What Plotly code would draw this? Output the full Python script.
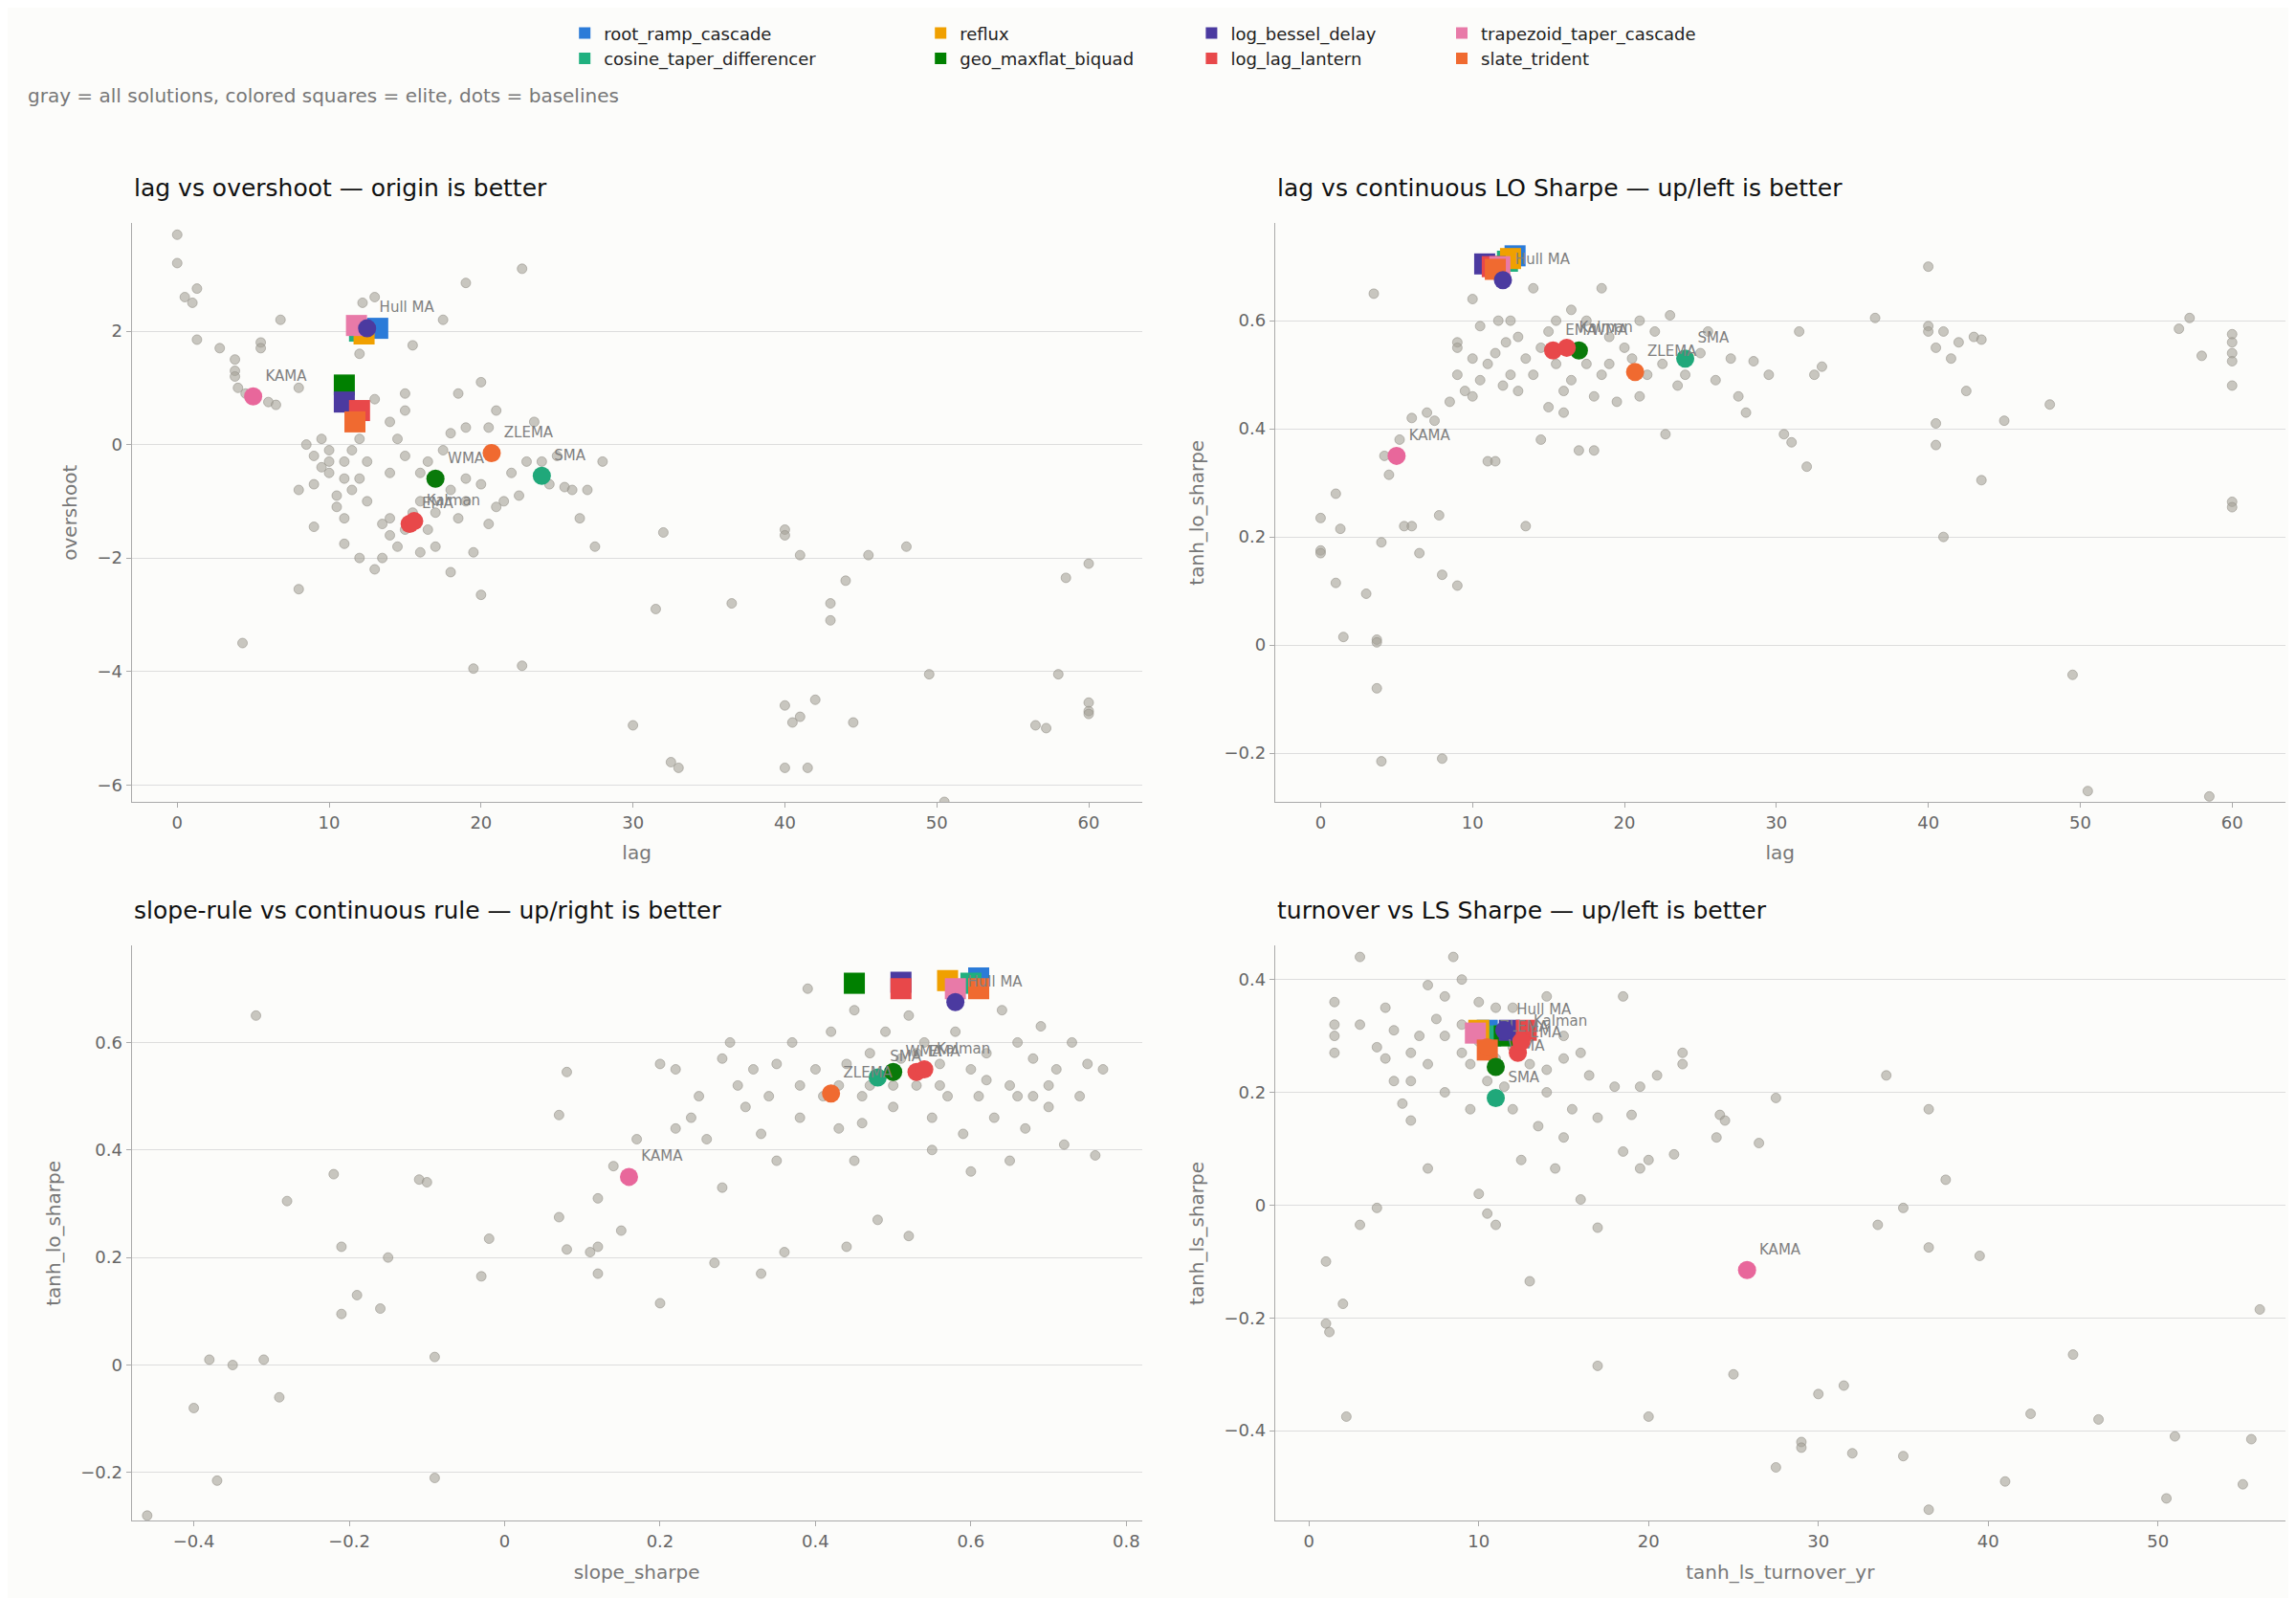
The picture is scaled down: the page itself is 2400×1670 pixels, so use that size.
import plotly.graph_objects as go

names = ["root_ramp_cascade","cosine_taper_differencer","reflux","geo_maxflat_biquad",
         "log_bessel_delay","log_lag_lantern","trapezoid_taper_cascade","slate_trident"]
colors = ["#2b7bd8","#20b07f","#f0a000","#008000","#4b3aa0","#e8484a","#e87aa8","#f06a30"]

base_names = ["KAMA","SMA","WMA","EMA","Kalman","ZLEMA","Hull MA"]
base_colors = ["#e8679b","#20a87a","#0a7a0a","#e8484a","#e8484a","#f06a30","#4b3aa0"]

# panel 1: lag vs overshoot
g1 = [(0,3.7),(0,3.2),(0.5,2.6),(1,2.5),(1.3,2.75),(1.3,1.85),(2.8,1.7),(3.8,1.5),(3.8,1.3),(3.8,1.2),(4,1.0),(4.5,0.9),(5.5,1.8),(5.5,1.7),(6,0.75),(6.5,0.7),(6.8,2.2),(8,1.0),(8,-0.8),(8,-2.55),(8.5,0),(9,-0.2),(9,-0.7),(9,-1.45),(9.5,0.1),(10,-0.3),(10,-0.5),(10.5,-0.9),(10.5,-1.1),(11,-0.6),(11,-0.3),(11,-1.3),(11.5,-0.8),(12,1.6),(12,0.1),(12.2,2.5),(12.5,-0.3),(12.5,-1.0),(13,2.6),(13.5,-2.0),(13.5,-1.4),(14,-0.5),(14,-1.6),(14.5,0.1),(14.5,-1.8),(15,0.6),(15,-0.2),(15.5,1.75),(15.5,-1.2),(16,-0.5),(16,-1.9),(16.5,-0.3),(16.5,-1.5),(17,-1.8),(17.5,2.2),(17.5,-0.1),(18,-0.8),(18,-2.25),(18.5,-1.3),(18.5,0.9),(19,2.85),(19,0.3),(19,-1.0),(19.5,-3.95),(19.5,-1.9),(20,1.1),(20,-0.7),(20,-2.65),(20.5,0.3),(21,-1.1),(21,0.6),(21.5,-1.0),(22,-0.5),(22.5,-0.9),(22.7,3.1),(22.7,-3.9),(23,-0.3),(23.5,0.4),(24,-0.3),(24.5,-0.7),(25,-0.2),(25.5,-0.75),(26,-0.8),(26.5,-1.3),(27,-0.8),(27.5,-1.8),(28,-0.3),(30,-4.95),(31.5,-2.9),(32,-1.55),(32.5,-5.6),(33,-5.7),(36.5,-2.8),(40,-1.5),(40,-1.6),(40,-4.6),(40,-5.7),(40.5,-4.9),(41,-4.8),(41,-1.95),(41.5,-5.7),(42,-4.5),(43,-2.8),(43,-3.1),(44,-2.4),(44.5,-4.9),(45.5,-1.95),(48,-1.8),(49.5,-4.05),(50.5,-6.3),(56.5,-4.95),(57.2,-5.0),(58,-4.05),(58.5,-2.35),(60,-2.1),(60,-4.55),(60,-4.7),(60,-4.75),(4.3,-3.5),(11,-1.75),(12,-2.0),(13,-2.2),(14,-1.3),(15,-1.5),(16,-1.0),(17,-1.2),(18,0.2),(19,-0.6),(20.5,-1.4),(13,0.8),(14,0.4),(15,0.9),(12,-0.6),(10,-0.1),(9.5,-0.4),(11.5,-0.1)]
e1 = [(13.2,2.05),(12,2.0),(12.3,1.95),(11,1.05),(11,0.75),(12,0.6),(11.8,2.1),(11.7,0.4)]
b1 = [(5,0.85),(24,-0.55),(17,-0.6),(15.3,-1.4),(15.6,-1.35),(20.7,-0.15),(12.5,2.05)]

# panel 2: lag vs tanh_lo_sharpe
g2 = [(0,0.235),(0,0.175),(0,0.17),(1,0.28),(1,0.115),(1.3,0.215),(1.5,0.015),(3,0.095),(3.5,0.65),(3.7,0.01),(3.7,0.005),(3.7,-0.08),(4,-0.215),(4,0.19),(4.2,0.35),(4.5,0.315),(5.2,0.38),(5.5,0.22),(6,0.42),(6,0.22),(6.5,0.17),(7,0.43),(7.5,0.415),(7.8,0.24),(8,0.13),(8,-0.21),(8.5,0.45),(9,0.11),(9,0.5),(9,0.56),(9,0.55),(9.5,0.47),(10,0.53),(10,0.64),(10,0.46),(10.5,0.49),(10.5,0.59),(11,0.52),(11,0.34),(11.5,0.54),(11.5,0.34),(11.7,0.6),(12,0.48),(12.2,0.56),(12.5,0.5),(12.5,0.6),(13,0.57),(13,0.47),(13.5,0.53),(13.5,0.22),(14,0.66),(14,0.5),(14.5,0.55),(14.5,0.38),(15,0.58),(15,0.44),(15.5,0.6),(15.5,0.52),(16,0.47),(16,0.43),(16.5,0.62),(16.5,0.49),(17,0.36),(17,0.55),(17.5,0.52),(17.5,0.6),(18,0.46),(18,0.36),(18.5,0.5),(18.5,0.66),(19,0.52),(19,0.57),(19.5,0.45),(20,0.55),(20.5,0.53),(21,0.6),(21,0.46),(21.5,0.5),(22,0.58),(22.5,0.52),(22.7,0.39),(23,0.61),(23.5,0.48),(24,0.5),(25,0.54),(25.5,0.58),(26,0.49),(27,0.53),(27.5,0.46),(28,0.43),(28.5,0.525),(29.5,0.5),(30.5,0.39),(31,0.375),(31.5,0.58),(32,0.33),(32.5,0.5),(33,0.515),(36.5,0.605),(40,0.7),(40,0.59),(40,0.58),(40.5,0.55),(40.5,0.41),(40.5,0.37),(41,0.58),(41,0.2),(41.5,0.53),(42,0.56),(42.5,0.47),(43,0.57),(43.5,0.565),(43.5,0.305),(45,0.415),(48,0.445),(49.5,-0.055),(50.5,-0.27),(56.5,0.585),(57.2,0.605),(58,0.535),(58.5,-0.28),(60,0.575),(60,0.56),(60,0.54),(60,0.525),(60,0.48),(60,0.265),(60,0.255)]
e2 = [(12.8,0.72),(12.3,0.71),(12.5,0.715),(11.5,0.70),(10.8,0.705),(11.3,0.70),(11.8,0.70),(11.5,0.695)]
b2 = [(5,0.35),(24,0.53),(17,0.545),(15.3,0.545),(16.2,0.55),(20.7,0.505),(12,0.675)]

# panel 3: slope_sharpe vs tanh_lo_sharpe
g3 = [(-0.46,-0.28),(-0.4,-0.08),(-0.38,0.01),(-0.37,-0.215),(-0.35,0.0),(-0.32,0.65),(-0.31,0.01),(-0.29,-0.06),(-0.28,0.305),(-0.22,0.355),(-0.21,0.22),(-0.21,0.095),(-0.19,0.13),(-0.16,0.105),(-0.15,0.2),(-0.11,0.345),(-0.1,0.34),(-0.09,0.015),(-0.09,-0.21),(-0.03,0.165),(-0.02,0.235),(0.07,0.275),(0.07,0.465),(0.08,0.545),(0.08,0.215),(0.11,0.21),(0.12,0.31),(0.12,0.17),(0.12,0.22),(0.14,0.37),(0.15,0.25),(0.17,0.42),(0.2,0.115),(0.2,0.56),(0.22,0.55),(0.22,0.44),(0.24,0.46),(0.25,0.5),(0.26,0.42),(0.27,0.19),(0.28,0.33),(0.28,0.57),(0.29,0.6),(0.3,0.52),(0.31,0.48),(0.32,0.55),(0.33,0.17),(0.33,0.43),(0.34,0.5),(0.35,0.38),(0.35,0.56),(0.36,0.21),(0.37,0.6),(0.38,0.52),(0.38,0.46),(0.39,0.7),(0.4,0.55),(0.41,0.5),(0.42,0.62),(0.43,0.44),(0.44,0.56),(0.44,0.22),(0.45,0.66),(0.46,0.5),(0.46,0.45),(0.47,0.58),(0.48,0.27),(0.49,0.62),(0.5,0.48),(0.51,0.57),(0.52,0.24),(0.52,0.65),(0.53,0.52),(0.54,0.6),(0.55,0.46),(0.56,0.56),(0.57,0.5),(0.58,0.62),(0.59,0.43),(0.6,0.55),(0.6,0.36),(0.61,0.5),(0.62,0.58),(0.63,0.46),(0.64,0.66),(0.65,0.52),(0.66,0.6),(0.67,0.44),(0.68,0.5),(0.68,0.57),(0.69,0.63),(0.7,0.48),(0.71,0.55),(0.72,0.41),(0.73,0.6),(0.74,0.5),(0.75,0.56),(0.76,0.39),(0.77,0.55),(0.65,0.38),(0.55,0.4),(0.45,0.38),(0.5,0.52),(0.47,0.52),(0.43,0.52),(0.53,0.58),(0.56,0.52),(0.62,0.53),(0.7,0.52),(0.66,0.5)]
e3 = [(0.61,0.72),(0.6,0.71),(0.57,0.715),(0.45,0.71),(0.51,0.712),(0.51,0.70),(0.58,0.70),(0.61,0.70)]
b3 = [(0.16,0.35),(0.48,0.535),(0.5,0.545),(0.53,0.545),(0.54,0.55),(0.42,0.505),(0.58,0.675)]

# panel 4: turnover vs tanh_ls_sharpe
g4 = [(1,-0.1),(1,-0.21),(1.2,-0.225),(1.5,0.3),(1.5,0.32),(1.5,0.27),(1.5,0.36),(2,-0.175),(2.2,-0.375),(3,0.44),(3,0.32),(3,-0.035),(4,-0.005),(4,0.28),(4.5,0.26),(4.5,0.35),(5,0.22),(5,0.31),(5.5,0.18),(6,0.27),(6,0.15),(6.5,0.3),(7,0.39),(7,0.065),(7.5,0.33),(8,0.37),(8,0.2),(8.5,0.44),(9,0.4),(9,0.27),(9.5,0.25),(9.5,0.17),(10,0.36),(10,0.02),(10.5,0.22),(10.5,-0.015),(11,0.35),(11,-0.035),(11.5,0.21),(12,0.17),(12,0.35),(12.5,0.08),(13,0.25),(13,-0.135),(13.5,0.14),(14,0.37),(14,0.2),(14.5,0.065),(15,0.3),(15,0.12),(15.5,0.17),(16,0.27),(16,0.01),(16.5,0.23),(17,0.155),(17,-0.04),(17,-0.285),(18,0.21),(18.5,0.37),(18.5,0.095),(19,0.16),(19.5,0.21),(19.5,0.065),(20,-0.375),(20,0.08),(20.5,0.23),(21.5,0.09),(22,0.27),(22,0.25),(24,0.12),(24.2,0.16),(24.5,0.15),(25,-0.3),(26.5,0.11),(27.5,0.19),(27.5,-0.465),(29,-0.42),(29,-0.43),(30,-0.335),(31.5,-0.32),(32,-0.44),(33.5,-0.035),(34,0.23),(35,-0.005),(35,-0.445),(36.5,0.17),(36.5,-0.075),(36.5,-0.54),(37.5,0.045),(39.5,-0.09),(41,-0.49),(42.5,-0.37),(45,-0.265),(46.5,-0.38),(50.5,-0.52),(51,-0.41),(55,-0.495),(55.5,-0.415),(56,-0.185),(8,0.3),(9,0.32),(12,0.28),(13,0.3),(14,0.24),(15,0.26),(11,0.26),(10,0.29),(6,0.22),(7,0.25)]
e4 = [(10.5,0.31),(10.7,0.30),(10,0.31),(11.5,0.30),(11.8,0.31),(12.8,0.31),(9.8,0.305),(10.5,0.275)]
b4 = [(25.8,-0.115),(11,0.19),(11,0.245),(12.3,0.27),(12.5,0.29),(10.5,0.28),(11.5,0.31)]

panels = [
    dict(g=g1,e=e1,b=b1,title="lag vs overshoot — origin is better",xt="lag",yt="overshoot",
         xr=[-3,63.5],yr=[-6.3,3.9],xd=[0.054,0.494],yd=[0.503,0.865],dx=10,dy=2),
    dict(g=g2,e=e2,b=b2,title="lag vs continuous LO Sharpe — up/left is better",xt="lag",yt="tanh_lo_sharpe",
         xr=[-3,63.5],yr=[-0.29,0.78],xd=[0.552,0.992],yd=[0.503,0.865],dx=10,dy=0.2),
    dict(g=g3,e=e3,b=b3,title="slope-rule vs continuous rule — up/right is better",xt="slope_sharpe",yt="tanh_lo_sharpe",
         xr=[-0.48,0.82],yr=[-0.29,0.78],xd=[0.054,0.494],yd=[0.053,0.413],dx=0.2,dy=0.2),
    dict(g=g4,e=e4,b=b4,title="turnover vs LS Sharpe — up/left is better",xt="tanh_ls_turnover_yr",yt="tanh_ls_sharpe",
         xr=[-2,57.5],yr=[-0.56,0.46],xd=[0.552,0.992],yd=[0.053,0.413],dx=10,dy=0.2),
]

fig = go.Figure()
layout = {}
ann = []
leg_ids = ["legend","legend","legend2","legend2","legend3","legend3","legend4","legend4"]
for i,p in enumerate(panels):
    n = "" if i == 0 else str(i+1)
    xa, ya = "x"+n, "y"+n
    fig.add_trace(go.Scatter(x=[a for a,_ in p["g"]], y=[b for _,b in p["g"]], mode="markers",
        marker=dict(color="rgba(165,162,152,0.6)", size=10, line=dict(width=1,color="rgba(150,147,138,0.6)")),
        showlegend=False, xaxis=xa, yaxis=ya, hoverinfo="skip"))
    for k in range(8):
        x,y = p["e"][k]
        fig.add_trace(go.Scatter(x=[x], y=[y], mode="markers", name=names[k],
            marker=dict(symbol="square", color=colors[k], size=22),
            showlegend=(i == 0), legend=leg_ids[k], xaxis=xa, yaxis=ya))
    for k in range(len(base_names)):
        x,y = p["b"][k]
        fig.add_trace(go.Scatter(x=[x], y=[y], mode="markers+text", text=[base_names[k]],
            textposition="top right", textfont=dict(size=15,color="#808080"),
            marker=dict(color=base_colors[k], size=19), showlegend=False, xaxis=xa, yaxis=ya))
    ax = dict(domain=p["xd"], range=p["xr"], dtick=p["dx"], showgrid=False, zeroline=False,
              showline=True, linecolor="#aaaaaa", ticks="outside", tickcolor="#aaaaaa",
              tickfont=dict(size=18,color="#666"), title=dict(text=p["xt"],font=dict(size=20,color="#777")),
              anchor=ya)
    ay = dict(domain=p["yd"], range=p["yr"], dtick=p["dy"], showgrid=True, gridcolor="#dddddd", zeroline=False,
              showline=True, linecolor="#aaaaaa", ticks="outside", tickcolor="#aaaaaa",
              tickfont=dict(size=18,color="#666"), title=dict(text=p["yt"],font=dict(size=20,color="#777")),
              anchor=xa)
    layout["xaxis"+n] = ax
    layout["yaxis"+n] = ay
    ann.append(dict(text=p["title"], x=p["xd"][0], y=p["yd"][1]+0.012, xref="paper", yref="paper",
                    xanchor="left", yanchor="bottom", showarrow=False, font=dict(size=25,color="#111")))

ann.append(dict(text="gray = all solutions, colored squares = elite, dots = baselines", x=0.008, y=0.945,
                xref="paper", yref="paper", xanchor="left", yanchor="middle", showarrow=False,
                font=dict(size=20,color="#777")))

leg = dict(orientation="v", y=0.995, yanchor="top", xanchor="left", bgcolor="rgba(0,0,0,0)",
           font=dict(size=18,color="#222"), tracegroupgap=0, itemsizing="constant")
fig.update_layout(
    width=2400, height=1670, paper_bgcolor="#fcfcfa", plot_bgcolor="#fcfcfa",
    margin=dict(l=0,r=0,t=0,b=0), annotations=ann,
    font=dict(family="DejaVu Sans"),
    legend=dict(leg, x=0.243), legend2=dict(leg, x=0.398), legend3=dict(leg, x=0.516),
    legend4=dict(leg, x=0.625),
    **layout)
fig.write_html("out.html")
